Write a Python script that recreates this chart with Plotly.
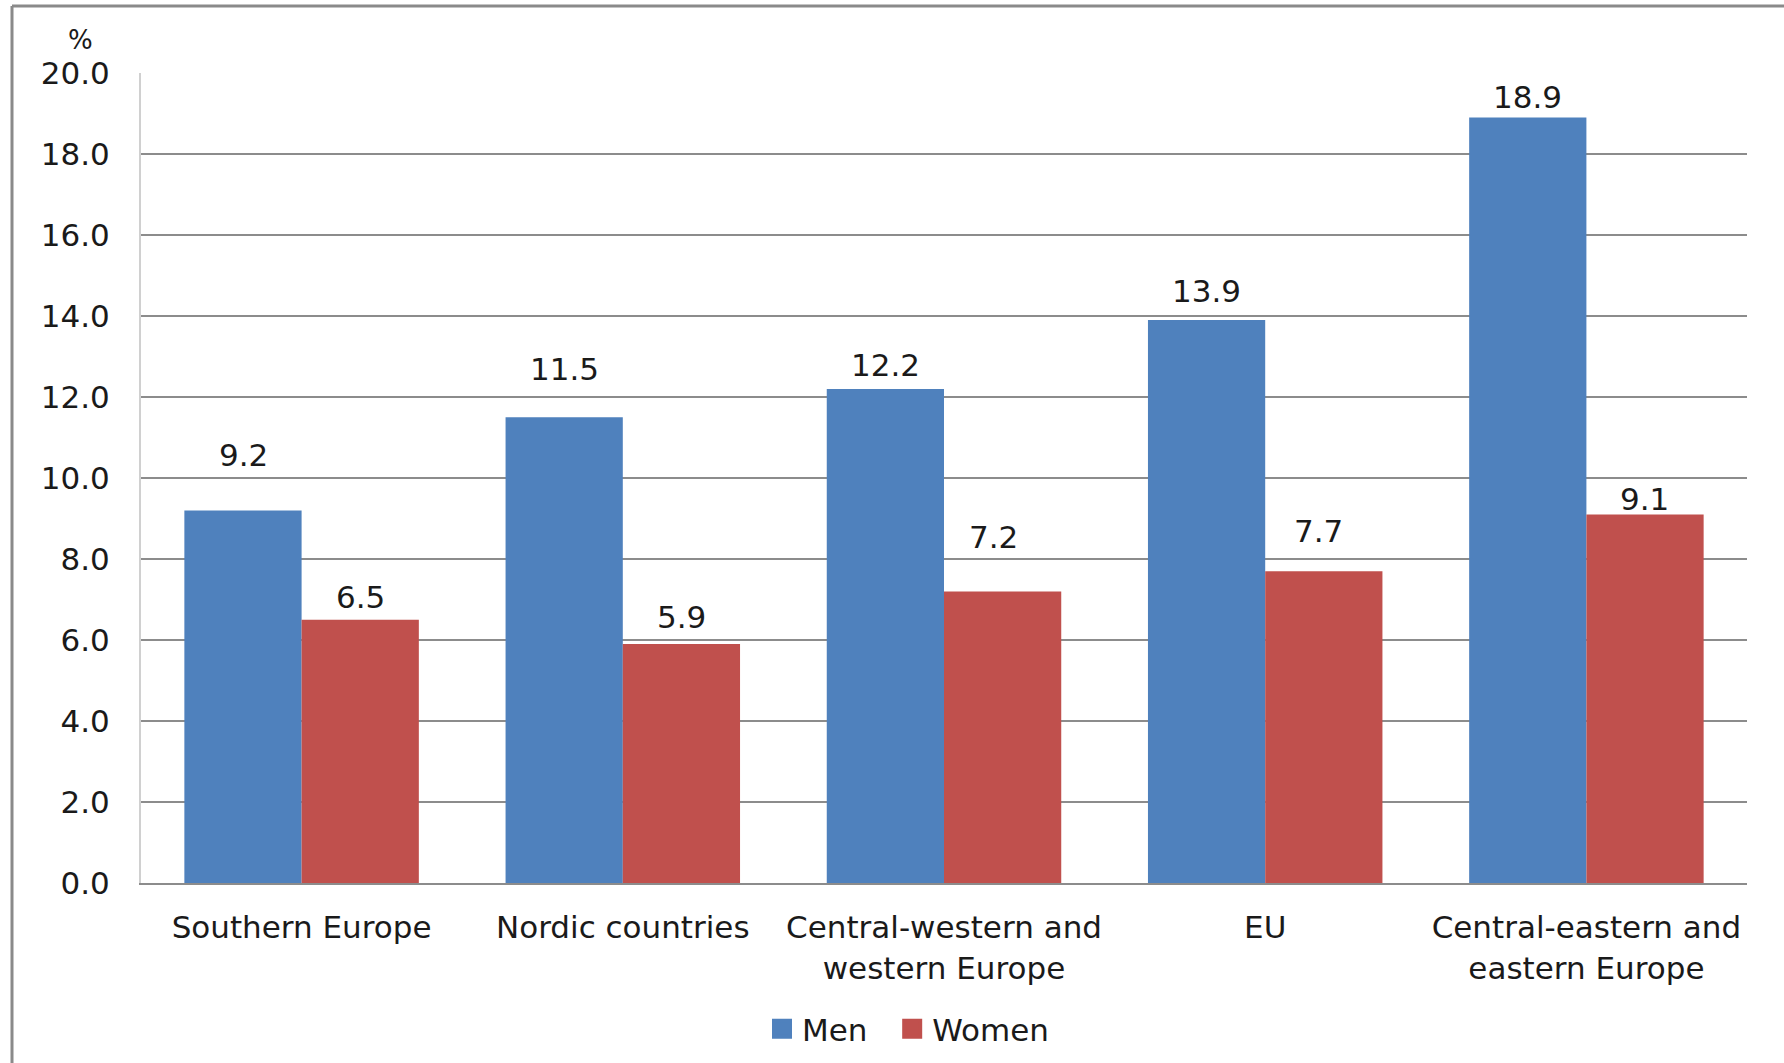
import plotly.graph_objects as go

# Share of people (%) by region and sex
regions = ["Southern Europe", "Nordic countries", "Central-western and<br>western Europe",
           "EU", "Central-eastern and<br>eastern Europe"]
men = [9.2, 11.5, 12.2, 13.9, 18.9]
women = [6.5, 5.9, 7.2, 7.7, 9.1]

y_ticks = [0, 2, 4, 6, 8, 10, 12, 14, 16, 18, 20]

BLUE = "#4F81BD"
RED = "#C0504D"
FONT = "DejaVu Sans"
FS = 31
TXT = "#1a1a1a"

# Figure geometry (pixels)
W, H = 1784, 1063
L, R, T, B = 141, 37, 73, 180
PW, PH = W - L - R, H - T - B
BAR_W = 117  # approx width of one bar in px

# label placement tweaks (px above bar top, px horizontal)
men_lift = [55, 48, 24, 29, 21]
women_lift = [23, 27, 54, 40, 15]
women_dx = [0, 0, -9, -5, 0]


def px_x(px):
    return (px - L) / PW


def px_y(py):
    return (H - B - py) / PH


fig = go.Figure()
fig.add_trace(go.Bar(name="Men", x=regions, y=men, marker_color=BLUE,
                     marker_line_width=0, showlegend=False))
fig.add_trace(go.Bar(name="Women", x=regions, y=women, marker_color=RED,
                     marker_line_width=0, showlegend=False))

# legend entries drawn as square markers (extra spacing after the first entry)
for name, col in (("Men\u00a0\u00a0", BLUE), ("Women", RED)):
    fig.add_trace(go.Scatter(name=name, x=[None], y=[None], mode="markers",
                             marker=dict(symbol="square", size=16, color=col,
                                         line=dict(width=4, color=col))))

annotations = []
for i, r in enumerate(regions):
    annotations.append(dict(x=r, y=men[i], xref="x", yref="y", text=f"{men[i]:.1f}",
                            showarrow=False, xshift=-BAR_W / 2, yshift=men_lift[i],
                            yanchor="middle", font=dict(family=FONT, size=FS, color=TXT)))
    annotations.append(dict(x=r, y=women[i], xref="x", yref="y", text=f"{women[i]:.1f}",
                            showarrow=False, xshift=BAR_W / 2 + women_dx[i],
                            yshift=women_lift[i], yanchor="middle",
                            font=dict(family=FONT, size=FS, color=TXT)))

# unit label above the y axis
annotations.append(dict(x=px_x(80), y=px_y(40), xref="paper", yref="paper",
                        text="%", showarrow=False, xanchor="center", yanchor="middle",
                        font=dict(family=FONT, size=26, color=TXT)))

# outer frame (top and left edges)
shapes = [
    dict(type="line", xref="paper", yref="paper", x0=px_x(12), x1=px_x(W + 5),
         y0=px_y(6), y1=px_y(6), line=dict(color="#8a8a8a", width=3)),
    dict(type="line", xref="paper", yref="paper", x0=px_x(12), x1=px_x(12),
         y0=px_y(6), y1=px_y(H + 5), line=dict(color="#8a8a8a", width=3)),
]

fig.update_layout(
    width=W, height=H,
    margin=dict(l=L, r=R, t=T, b=B, autoexpand=False),
    paper_bgcolor="white", plot_bgcolor="white",
    barmode="group", bargap=0.27, bargroupgap=0,
    font=dict(family=FONT, size=FS, color=TXT),
    showlegend=True,
    legend=dict(orientation="h", x=px_x(762), y=px_y(1029), xanchor="left",
                yanchor="middle", font=dict(family=FONT, size=FS, color=TXT),
                itemsizing="trace", bgcolor="rgba(0,0,0,0)"),
    annotations=annotations,
    shapes=shapes,
)

fig.update_xaxes(showgrid=False, showline=True, linecolor="#8c8c8c", linewidth=2,
                 ticks="", ticklabelstandoff=16,
                 tickfont=dict(family=FONT, size=FS, color=TXT))
fig.update_yaxes(range=[0, 20], tickvals=y_ticks, tickformat=".1f",
                 showgrid=True, gridcolor="#8c8c8c", gridwidth=1.5,
                 showline=True, linecolor="#d0d0d0", linewidth=2,
                 zeroline=False, ticks="", ticklabelstandoff=23,
                 tickfont=dict(family=FONT, size=FS, color=TXT))

fig.write_html("out.html")
